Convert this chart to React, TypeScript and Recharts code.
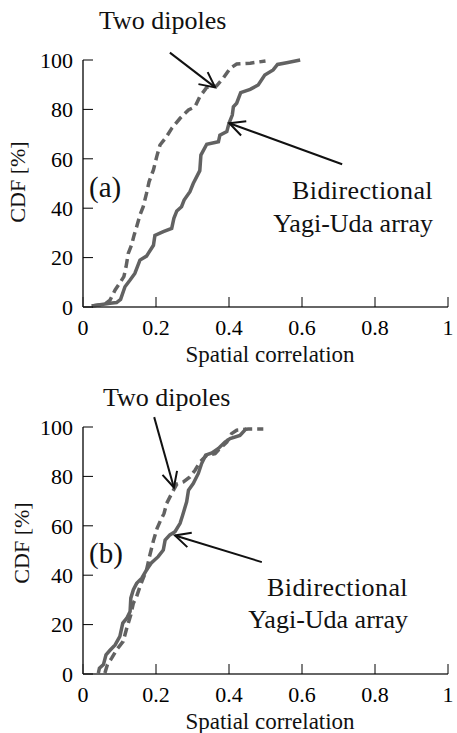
import React from 'react';
import { LineChart, Line, XAxis, YAxis, ReferenceLine } from 'recharts';

// Empirical CDFs of the spatial correlation: [correlation, CDF %]
const yagiA: [number, number][] = [
  [0.024, 0.4], [0.074, 1.5], [0.092, 1.8], [0.103, 3.1], [0.115, 8.2], [0.129, 10.9],
  [0.142, 13.6], [0.156, 19], [0.174, 20.6], [0.193, 25], [0.197, 29], [0.22, 30.5],
  [0.243, 31.8], [0.249, 35.9], [0.257, 38.9], [0.27, 40.6], [0.277, 43.3], [0.293, 46.7],
  [0.302, 50], [0.32, 55.2], [0.323, 61.5], [0.339, 65.9], [0.371, 66.9], [0.375, 69.6],
  [0.394, 71], [0.4, 74.4], [0.409, 77.7], [0.412, 81.1], [0.421, 82.5], [0.432, 86.8],
  [0.458, 88.1], [0.48, 89.9], [0.498, 93.9], [0.521, 96], [0.533, 98.2], [0.558, 98.9],
  [0.595, 100],
];

const dipolesA: [number, number][] = [
  [0.024, 0.4], [0.06, 1.2], [0.074, 2.8], [0.088, 6.9], [0.1, 9.5], [0.112, 12.3],
  [0.118, 16.3], [0.124, 21.7], [0.133, 25.1], [0.14, 29.1], [0.147, 32.5], [0.156, 37.2],
  [0.165, 40.6], [0.174, 46], [0.181, 50.7], [0.193, 55.5], [0.202, 60.9], [0.211, 65.6],
  [0.229, 69], [0.243, 72.3], [0.266, 76.4], [0.289, 79.8], [0.307, 81.1], [0.32, 85.2],
  [0.339, 88.9], [0.366, 89.5], [0.384, 92.6], [0.403, 96.6], [0.421, 98.4], [0.458, 98.7],
  [0.5, 99.6],
];

const yagiB: [number, number][] = [
  [0.042, 0.4], [0.045, 2.4], [0.056, 3.8], [0.063, 7.8], [0.074, 9.6], [0.088, 11.8],
  [0.101, 15.2], [0.109, 20.6], [0.12, 22.6], [0.129, 25.3], [0.131, 30.7], [0.138, 34.1],
  [0.147, 36.7], [0.161, 38.8], [0.174, 42.1], [0.188, 45.1], [0.206, 47.5], [0.22, 50.2],
  [0.225, 54.2], [0.238, 56.3], [0.252, 57.6], [0.266, 61], [0.273, 64.3], [0.284, 69.7],
  [0.289, 74.4], [0.302, 77.1], [0.316, 81.2], [0.325, 85.2], [0.336, 88.6], [0.353, 89.5],
  [0.371, 91.3], [0.389, 93.9], [0.403, 95.3], [0.43, 96.6], [0.443, 98.7], [0.448, 99.3],
];

const dipolesB: [number, number][] = [
  [0.06, 0.4], [0.067, 3.8], [0.079, 6.5], [0.092, 9.8], [0.11, 13.2], [0.12, 18.6],
  [0.131, 24], [0.138, 28.7], [0.147, 31.4], [0.156, 35.4], [0.165, 38.8], [0.174, 42.1],
  [0.183, 48], [0.193, 54], [0.203, 59], [0.212, 62], [0.222, 65], [0.229, 69],
  [0.243, 73.1], [0.257, 76.9], [0.275, 77.8], [0.293, 79.8], [0.307, 82.5], [0.321, 85.9],
  [0.339, 88.6], [0.362, 89.2], [0.375, 91.3], [0.394, 93.9], [0.407, 97.3], [0.421, 98.7],
  [0.453, 99.2], [0.494, 99.2],
];

const xTicks = [0, 0.2, 0.4, 0.6, 0.8, 1];
const yTicks = [0, 20, 40, 60, 80, 100];

// Annotation arrows, tail -> head, in data units
const arrowsA: [number, number, number, number][] = [
  [0.238, 103, 0.362, 88.9],
  [0.71, 57.8, 0.401, 74.4],
];
const arrowsB: [number, number, number, number][] = [
  [0.195, 104, 0.249, 75.5],
  [0.49, 45.3, 0.252, 56.1],
];

const SERIF = "'Liberation Serif', 'Times New Roman', serif";
const CURVE = '#626262';
const W = 457;
const H = 367;

const toPts = (rows: [number, number][]) => rows.map(([x, y]) => ({ x, y }));

const ArrowShape = (props: any) => {
  const { x1, y1, x2, y2 } = props;
  const ang = Math.atan2(y2 - y1, x2 - x1);
  const len = 17;
  const spread = 0.46;
  const ax = x2 - len * Math.cos(ang - spread);
  const ay = y2 - len * Math.sin(ang - spread);
  const bx = x2 - len * Math.cos(ang + spread);
  const by = y2 - len * Math.sin(ang + spread);
  return (
    <g>
      <line x1={x1} y1={y1} x2={x2} y2={y2} stroke="#111" strokeWidth={2} />
      <polyline
        points={`${ax},${ay} ${x2},${y2} ${bx},${by}`}
        fill="none"
        stroke="#111"
        strokeWidth={2}
      />
    </g>
  );
};

type PanelText = {
  tag: string;
  tagY: number;
  dipX: number;
  dipY: number;
  yagiX: number;
  yagi1Y: number;
  yagi2Y: number;
  cdfX: number;
  cdfY: number;
};

type PanelProps = {
  yagi: [number, number][];
  dipoles: [number, number][];
  arrows: [number, number, number, number][];
  text: PanelText;
};

const tickStyle = { fill: '#000', fontSize: 22, fontFamily: SERIF };

function Panel({ yagi, dipoles, arrows, text }: PanelProps) {
  return (
    <div style={{ position: 'relative', width: W, height: H }}>
      <LineChart
        width={W}
        height={H}
        margin={{ top: 60, right: 9, bottom: 20, left: 23 }}
      >
        <XAxis
          xAxisId={0}
          type="number"
          dataKey="x"
          domain={[0, 1]}
          ticks={xTicks}
          interval={0}
          height={40}
          tickSize={-10}
          tickMargin={22}
          tick={tickStyle}
          tickFormatter={(v: number) => String(v)}
          axisLine={{ stroke: '#333', strokeWidth: 1.6 }}
          tickLine={{ stroke: '#000', strokeWidth: 1 }}
        />
        <XAxis
          xAxisId="top"
          orientation="top"
          type="number"
          dataKey="x"
          domain={[0, 1]}
          ticks={xTicks}
          interval={0}
          height={0}
          tickSize={-10}
          tick={false}
          axisLine={{ stroke: '#333', strokeWidth: 1.6 }}
          tickLine={{ stroke: '#000', strokeWidth: 1 }}
        />
        <YAxis
          yAxisId={0}
          type="number"
          domain={[0, 100]}
          ticks={yTicks}
          interval={0}
          width={60}
          tickSize={-10}
          tickMargin={20}
          tick={tickStyle}
          axisLine={{ stroke: '#333', strokeWidth: 1.6 }}
          tickLine={{ stroke: '#000', strokeWidth: 1 }}
        />
        <YAxis
          yAxisId="right"
          orientation="right"
          type="number"
          domain={[0, 100]}
          ticks={yTicks}
          interval={0}
          width={0}
          tickSize={-10}
          tick={false}
          axisLine={{ stroke: '#333', strokeWidth: 1.6 }}
          tickLine={{ stroke: '#000', strokeWidth: 1 }}
        />
        <Line
          data={toPts(dipoles)}
          dataKey="y"
          type="linear"
          stroke={CURVE}
          strokeWidth={3.5}
          strokeDasharray="9 5"
          dot={false}
          activeDot={false}
          isAnimationActive={false}
        />
        <Line
          data={toPts(yagi)}
          dataKey="y"
          type="linear"
          stroke={CURVE}
          strokeWidth={3.5}
          dot={false}
          activeDot={false}
          isAnimationActive={false}
        />
        {arrows.map(([xa, ya, xb, yb], i) => (
          <ReferenceLine
            key={i}
            segment={[{ x: xa, y: ya }, { x: xb, y: yb }]}
            ifOverflow="visible"
            shape={ArrowShape}
          />
        ))}
      </LineChart>
      <svg
        width={W}
        height={H}
        style={{ position: 'absolute', left: 0, top: 0, pointerEvents: 'none' }}
        fontFamily={SERIF}
      >
        <text x={text.dipX} y={text.dipY} fontSize={26} fill="#111">Two dipoles</text>
        <text x={text.yagiX} y={text.yagi1Y} fontSize={26} fill="#111" textAnchor="end" letterSpacing={0.4}>Bidirectional</text>
        <text x={text.yagiX} y={text.yagi2Y} fontSize={26} fill="#111" textAnchor="end">Yagi-Uda array</text>
        <text x={89} y={text.tagY} fontSize={29} fill="#111">{text.tag}</text>
        <text
          x={text.cdfX}
          y={text.cdfY}
          fontSize={22}
          fill="#111"
          textAnchor="middle"
          transform={`rotate(-90 ${text.cdfX} ${text.cdfY})`}
        >
          CDF [%]
        </text>
        <text x={270} y={361.5} fontSize={23} fill="#111" textAnchor="middle">Spatial correlation</text>
      </svg>
    </div>
  );
}

export default function App() {
  return (
    <div
      style={{
        position: 'absolute',
        left: 0,
        top: 0,
        width: W,
        height: 733,
        overflow: 'hidden',
        background: '#fff',
      }}
    >
      <Panel
        yagi={yagiA}
        dipoles={dipolesA}
        arrows={arrowsA}
        text={{ tag: '(a)', tagY: 197, dipX: 99, dipY: 29, yagiX: 433, yagi1Y: 199, yagi2Y: 232, cdfX: 25, cdfY: 182 }}
      />
      <Panel
        yagi={yagiB}
        dipoles={dipolesB}
        arrows={arrowsB}
        text={{ tag: '(b)', tagY: 196, dipX: 103, dipY: 39, yagiX: 408, yagi1Y: 229, yagi2Y: 261, cdfX: 29, cdfY: 176 }}
      />
    </div>
  );
}
